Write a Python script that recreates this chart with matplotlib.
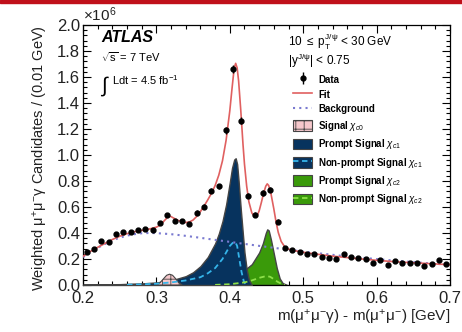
import numpy as np
import matplotlib.pyplot as plt
from matplotlib.patches import Patch, Rectangle
from matplotlib.lines import Line2D
from matplotlib.legend_handler import HandlerTuple
from matplotlib.ticker import MultipleLocator

plt.rcParams['font.family'] = ['Liberation Sans', 'DejaVu Sans']
plt.rcParams['mathtext.fontset'] = 'custom'
plt.rcParams['mathtext.rm'] = 'Liberation Sans'
plt.rcParams['mathtext.it'] = 'Liberation Sans:italic'
plt.rcParams['mathtext.bf'] = 'Liberation Sans:bold'
plt.rcParams['hatch.color'] = '#d04050'
plt.rcParams['hatch.linewidth'] = 0.6

# weighted candidates per 0.01 GeV, in units of 10^6
data_m = [0.205, 0.215, 0.225, 0.235, 0.245, 0.255, 0.265, 0.275, 0.285, 0.295,
          0.305, 0.315, 0.325, 0.335, 0.345, 0.355, 0.365, 0.375, 0.385, 0.395,
          0.405, 0.415, 0.425, 0.435, 0.445, 0.455, 0.465, 0.475, 0.485, 0.495,
          0.505, 0.515, 0.525, 0.535, 0.545, 0.555, 0.565, 0.575, 0.585, 0.595,
          0.605, 0.615, 0.625, 0.635, 0.645, 0.655, 0.665, 0.675, 0.685, 0.695]
data_v = [0.256, 0.274, 0.338, 0.328, 0.392, 0.410, 0.408, 0.420, 0.430, 0.423,
          0.474, 0.536, 0.494, 0.492, 0.470, 0.557, 0.602, 0.725, 0.758, 1.19,
          1.66, 1.264, 0.688, 0.542, 0.708, 0.733, 0.488, 0.282, 0.269, 0.256,
          0.236, 0.236, 0.218, 0.205, 0.197, 0.241, 0.215, 0.205, 0.197, 0.167,
          0.192, 0.154, 0.187, 0.172, 0.167, 0.172, 0.146, 0.162, 0.190, 0.164]
data_err = [0.015, 0.015, 0.015, 0.015, 0.015, 0.015, 0.015, 0.015, 0.015, 0.015,
            0.016, 0.016, 0.016, 0.016, 0.016, 0.018, 0.018, 0.02, 0.02, 0.025,
            0.03, 0.025, 0.02, 0.018, 0.02, 0.02, 0.016, 0.013, 0.013, 0.013,
            0.012, 0.012, 0.012, 0.012, 0.012, 0.012, 0.012, 0.012, 0.012, 0.012,
            0.012, 0.012, 0.012, 0.012, 0.012, 0.012, 0.012, 0.012, 0.012, 0.012]

fit_m = [0.20, 0.21, 0.22, 0.23, 0.24, 0.25, 0.26, 0.27, 0.28, 0.29, 0.30, 0.305,
         0.31, 0.315, 0.318, 0.32, 0.325, 0.33, 0.335, 0.34, 0.345, 0.35, 0.355,
         0.36, 0.365, 0.37, 0.375, 0.38, 0.385, 0.39, 0.395, 0.40, 0.403, 0.406,
         0.408, 0.41, 0.412, 0.415, 0.418, 0.42, 0.423, 0.426, 0.43, 0.434, 0.437,
         0.44, 0.443, 0.446, 0.449, 0.451, 0.453, 0.456, 0.46, 0.463, 0.466, 0.47,
         0.475, 0.48, 0.49, 0.50, 0.52, 0.54, 0.56, 0.58, 0.60, 0.62, 0.64, 0.66,
         0.68, 0.70]
fit_v = [0.220, 0.258, 0.290, 0.320, 0.350, 0.375, 0.395, 0.410, 0.420, 0.430,
         0.445, 0.460, 0.490, 0.520, 0.530, 0.526, 0.510, 0.496, 0.486, 0.481,
         0.485, 0.500, 0.528, 0.565, 0.608, 0.655, 0.705, 0.765, 0.845, 0.955,
         1.115, 1.340, 1.510, 1.670, 1.705, 1.670, 1.570, 1.340, 1.080, 0.930,
         0.760, 0.640, 0.555, 0.522, 0.530, 0.570, 0.635, 0.705, 0.760, 0.778,
         0.765, 0.705, 0.585, 0.485, 0.405, 0.335, 0.292, 0.276, 0.262, 0.252,
         0.236, 0.222, 0.211, 0.200, 0.190, 0.181, 0.174, 0.168, 0.162, 0.156]

bkg_m = [0.20, 0.21, 0.22, 0.23, 0.24, 0.25, 0.26, 0.27, 0.28, 0.29, 0.30, 0.32,
         0.34, 0.36, 0.38, 0.40, 0.42, 0.44, 0.46, 0.48, 0.50, 0.55, 0.60, 0.65, 0.70]
bkg_v = [0.215, 0.252, 0.286, 0.316, 0.343, 0.364, 0.380, 0.391, 0.398, 0.400,
         0.399, 0.391, 0.378, 0.363, 0.347, 0.332, 0.316, 0.301, 0.286, 0.271,
         0.257, 0.226, 0.199, 0.176, 0.155]

chic0_m = [0.300, 0.305, 0.310, 0.314, 0.318, 0.322, 0.326, 0.330, 0.335]
chic0_v = [0.0, 0.018, 0.050, 0.075, 0.083, 0.075, 0.050, 0.020, 0.0]

chic1_m = [0.20, 0.25, 0.28, 0.30, 0.32, 0.34, 0.35, 0.36, 0.37, 0.38, 0.385,
           0.39, 0.395, 0.40, 0.403, 0.406, 0.408, 0.41, 0.412, 0.415, 0.418,
           0.42, 0.423, 0.426, 0.43]
chic1_v = [0.002, 0.006, 0.012, 0.020, 0.035, 0.068, 0.098, 0.145, 0.215, 0.320,
           0.395, 0.490, 0.620, 0.790, 0.900, 0.965, 0.975, 0.930, 0.800, 0.580,
           0.380, 0.250, 0.120, 0.040, 0.0]

chic1_np_m = [0.26, 0.28, 0.30, 0.32, 0.34, 0.36, 0.37, 0.38, 0.39, 0.395, 0.40,
              0.405, 0.408, 0.41, 0.413, 0.416, 0.419, 0.422]
chic1_np_v = [0.002, 0.005, 0.010, 0.020, 0.035, 0.060, 0.090, 0.130, 0.200,
              0.250, 0.300, 0.330, 0.325, 0.300, 0.200, 0.100, 0.030, 0.0]

chic2_m = [0.20, 0.30, 0.35, 0.38, 0.40, 0.41, 0.42, 0.43, 0.44, 0.445, 0.449,
           0.451, 0.453, 0.456, 0.46, 0.464, 0.468, 0.472, 0.478]
chic2_v = [0.003, 0.010, 0.025, 0.045, 0.070, 0.090, 0.115, 0.160, 0.250, 0.320,
           0.400, 0.428, 0.420, 0.350, 0.240, 0.130, 0.050, 0.015, 0.0]

chic2_np_m = [0.38, 0.40, 0.42, 0.43, 0.44, 0.447, 0.451, 0.455, 0.46, 0.465,
              0.47, 0.475]
chic2_np_v = [0.001, 0.006, 0.020, 0.035, 0.055, 0.065, 0.068, 0.063, 0.045,
              0.025, 0.010, 0.0]

navy = '#07335e'
green = '#3a9a0a'
edge = '#444444'
txt = '#222222'

fig = plt.figure(figsize=(4.62, 3.32), dpi=100)
ax = fig.add_axes([83 / 462, 1 - 285 / 332, 367 / 462, 260 / 332])

# signal components
ax.fill_between(chic2_m, chic2_v, color=green, ec=edge, lw=1.0, zorder=2)
ax.fill_between(chic1_m, chic1_v, color=navy, ec=edge, lw=1.0, zorder=3)
ax.fill_between(chic0_m, chic0_v, fc='#f6c8cc', ec=edge, lw=0.8,
                hatch='++', zorder=4)
ax.plot(chic1_np_m, chic1_np_v, ls=(0, (3, 2)), color='#35b5ea', lw=1.3, zorder=5)
ax.plot(chic2_np_m, chic2_np_v, ls=(0, (3, 2)), color='#8ee04a', lw=1.3, zorder=5)

ax.plot(bkg_m, bkg_v, ls=(0, (1, 2)), color='#7a7ad0', lw=1.5, zorder=6)
ax.plot(fit_m, fit_v, color='#e06060', lw=1.2, zorder=7)
ax.errorbar(data_m, data_v, yerr=data_err, fmt='o', color='black', ms=3.5,
            elinewidth=1.0, capsize=0, zorder=8)

ax.set_xlim(0.2, 0.7)
ax.set_ylim(0, 2.0)
ax.xaxis.set_major_locator(MultipleLocator(0.1))
ax.xaxis.set_minor_locator(MultipleLocator(0.02))
ax.yaxis.set_major_locator(MultipleLocator(0.2))
ax.yaxis.set_minor_locator(MultipleLocator(0.04))
ax.tick_params(which='both', direction='in', top=True, right=True,
               labelsize=12, labelcolor=txt, width=0.8)
ax.tick_params(which='major', length=6)
ax.tick_params(axis='x', which='major', pad=4)
ax.tick_params(axis='y', which='major', pad=2)
ax.tick_params(which='minor', length=3)
ax.xaxis.set_major_formatter(plt.FuncFormatter(lambda v, p: f'{v:.1f}'))
ax.yaxis.set_major_formatter(plt.FuncFormatter(lambda v, p: f'{v:.1f}'))
for s in ax.spines.values():
    s.set_linewidth(0.9)

ax.set_xlabel(r'm($\rm\mu^{+}\mu^{-}\gamma$) - m($\rm\mu^{+}\mu^{-}$) [GeV]',
              fontsize=11, loc='right', labelpad=2, color=txt)
ax.set_ylabel(r'Weighted $\rm\mu^{+}\mu^{-}\gamma$ Candidates / (0.01 GeV)',
              fontsize=10.5, loc='top', labelpad=5, color=txt)

ax.text(0.0, 1.005, r'$\times$10$^{6}$', transform=ax.transAxes,
        fontsize=11, ha='left', va='bottom', color=txt)

ax.text(0.05, 0.935, 'ATLAS', transform=ax.transAxes, fontsize=11.5,
        fontweight='bold', style='italic', va='baseline')
ax.text(0.05, 0.857, r'$\sqrt{\rm s}$ = 7 TeV', transform=ax.transAxes,
        fontsize=8, va='baseline')
ax.text(0.045, 0.745, r'$\int$', transform=ax.transAxes,
        fontsize=15, va='baseline')
ax.text(0.078, 0.77, r'Ldt = 4.5 fb$^{-1}$', transform=ax.transAxes,
        fontsize=8, va='baseline')

ax.text(0.558, 0.917, r'10 $\leq$ p$_{\rm T}^{\rm J/\psi}$ < 30 GeV',
        transform=ax.transAxes, fontsize=8.5, va='baseline')
ax.text(0.558, 0.848, r'|y$^{\rm J/\psi}$| < 0.75',
        transform=ax.transAxes, fontsize=8.5, va='baseline')

handles = [
    (Line2D([], [], marker='|', color='black', ms=8, mew=1.0, ls='none'),
     Line2D([], [], marker='o', color='black', ms=3.5, ls='none')),
    Line2D([], [], color='#e06060', lw=1.2),
    Line2D([], [], color='#7a7ad0', lw=1.5, ls=(0, (1, 2))),
    Patch(fc='#f6c8cc', ec=edge, hatch='++', lw=0.8),
    Patch(fc=navy, ec=edge, lw=0.8),
    (Patch(fc=navy, ec=edge, lw=0.8),
     Line2D([], [], color='#35b5ea', lw=1.3, ls=(0, (3, 2)))),
    Patch(fc=green, ec=edge, lw=0.8),
    (Patch(fc=green, ec=edge, lw=0.8),
     Line2D([], [], color='#8ee04a', lw=1.3, ls=(0, (3, 2)))),
]
labels = ['Data', 'Fit', 'Background', r'Signal $\chi_{c0}$',
          r'Prompt Signal $\chi_{c1}$', r'Non-prompt Signal $\chi_{c1}$',
          r'Prompt Signal $\chi_{c2}$', r'Non-prompt Signal $\chi_{c2}$']
ax.legend(handles, labels, loc='upper left',
          bbox_to_anchor=(293 / 462, 1 - 74 / 332), bbox_transform=fig.transFigure,
          frameon=False, prop={'weight': 'bold', 'size': 7},
          handlelength=2.0, handleheight=1.3, handletextpad=0.6,
          labelspacing=0.45, borderaxespad=0, borderpad=0,
          handler_map={tuple: HandlerTuple(ndivide=1, pad=0)})

# red banner strip across the top edge
fig.patches.append(Rectangle((0, 1 - 3 / 332), 1, 3 / 332, transform=fig.transFigure,
                             color='#c0101a', zorder=10))

fig.savefig('out.png', dpi=100)
